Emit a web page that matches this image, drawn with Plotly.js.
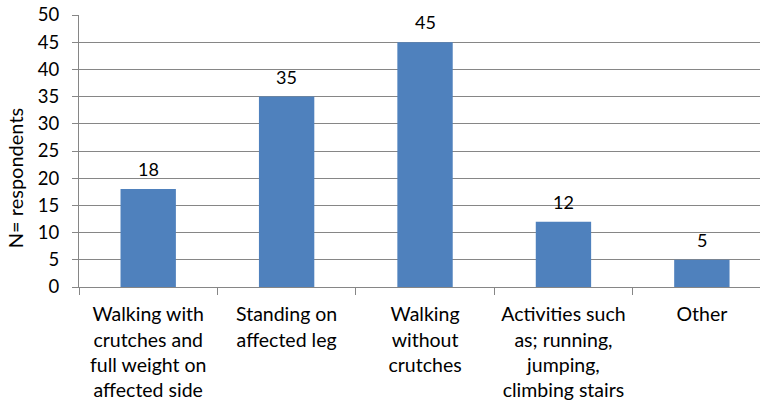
<!DOCTYPE html>
<html><head><meta charset="utf-8">
<script src="https://cdn.plot.ly/plotly-3.0.1.min.js"></script>
<style>body{margin:0;padding:0;background:#fff}#c{width:762px;height:401px}</style>
</head><body><div id="c"></div>
<script>
const categories = [
  "Walking with<br>crutches and<br>full weight on<br>affected side",
  "Standing on<br>affected leg",
  "Walking<br>without<br>crutches",
  "Activities such<br>as; running,<br>jumping,<br>climbing stairs",
  "Other"
];
const values = [18, 35, 45, 12, 5];
const yTicks = [0, 5, 10, 15, 20, 25, 30, 35, 40, 45, 50];
const yTitle = "N= respondents";

const font = "Lato, 'Open Sans', sans-serif";
const labels = categories.map((c, i) => ({
  x: c, y: values[i], xref: "x", yref: "y",
  text: String(values[i]), showarrow: false,
  yanchor: "bottom", yshift: 7,
  font: {family: font, size: 18, color: "#000"}
}));
labels.push({
  xref: "paper", yref: "paper", x: -0.094, y: 0.40,
  xanchor: "center", yanchor: "middle", textangle: -90,
  text: yTitle, showarrow: false,
  font: {family: font, size: 20, color: "#000"}
});

Plotly.newPlot("c", [{
  type: "bar",
  x: categories,
  y: values,
  width: 0.4,
  marker: {color: "#4F81BD"},
  hoverinfo: "none"
}], {
  width: 762, height: 401,
  margin: {l: 79, r: 2, t: 15, b: 114},
  paper_bgcolor: "#fff", plot_bgcolor: "#fff",
  showlegend: false,
  font: {family: font, color: "#000"},
  annotations: labels,
  xaxis: {
    type: "category",
    range: [-0.5, 4.42],
    tickson: "boundaries",
    ticks: "outside", ticklen: 7, tickcolor: "#868686", tickwidth: 1,
    showline: true, linecolor: "#868686", linewidth: 1,
    showgrid: false,
    tickfont: {family: font, size: 19.5, color: "#000"},
    tickangle: 0,
    ticklabelstandoff: 10,
    automargin: false
  },
  yaxis: {
    range: [0, 50],
    tickvals: yTicks,
    ticks: "outside", ticklen: 6, tickcolor: "#868686",
    showline: true, linecolor: "#868686", linewidth: 1,
    showgrid: true, gridcolor: "#868686", gridwidth: 1,
    zeroline: false,
    tickfont: {family: font, size: 18.5, color: "#000"},
    ticklabelstandoff: 9,
    automargin: false
  }
}, {displayModeBar: false, staticPlot: true});
</script></body></html>
